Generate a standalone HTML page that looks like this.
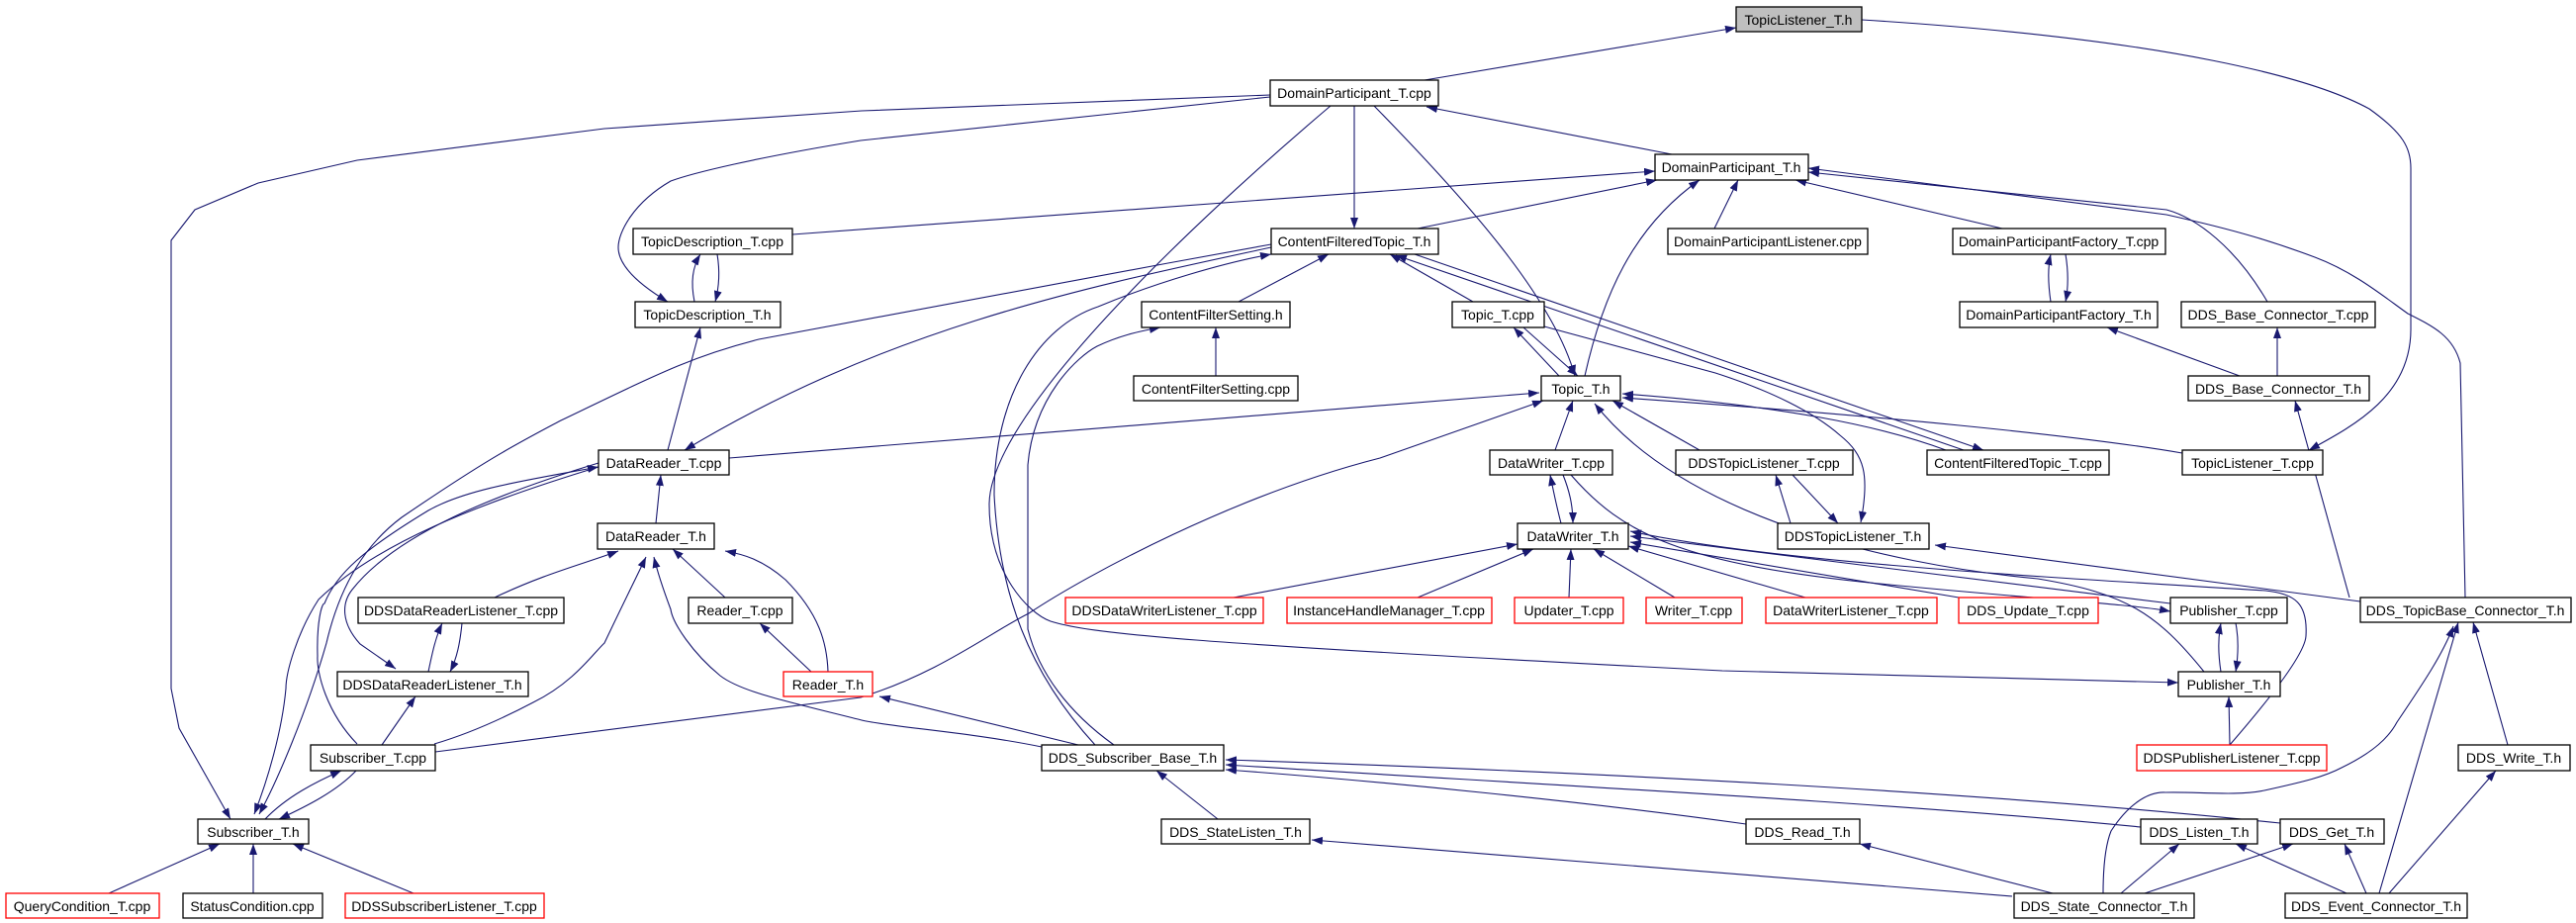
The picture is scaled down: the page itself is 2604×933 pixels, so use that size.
<!DOCTYPE html>
<html><head><meta charset="utf-8"><style>
html,body{margin:0;padding:0;background:#fff;}
svg{display:block;}
text{font-family:"Liberation Sans",sans-serif;font-size:14px;text-anchor:middle;fill:#000;}
.n{fill:#fff;stroke:#000;stroke-width:1.3;}
.r{fill:#fff;stroke:#f00;stroke-width:1.3;}
.g{fill:#bfbfbf;stroke:#000;stroke-width:1.3;}
path.e{fill:none;stroke:#191970;stroke-width:1.1;}
</style></head><body>
<svg width="2604" height="933" viewBox="0 0 2604 933" xmlns="http://www.w3.org/2000/svg">
<defs>
<marker id="a" markerUnits="userSpaceOnUse" markerWidth="12" markerHeight="9" refX="11" refY="4" orient="auto"><path d="M0,0 L11,4 L0,8 z" fill="#191970"/></marker>
<marker id="s" markerUnits="userSpaceOnUse" markerWidth="12" markerHeight="9" refX="11" refY="4" orient="auto-start-reverse"><path d="M0,0 L11,4 L0,8 z" fill="#191970"/></marker>
</defs>
<g marker-end="url(#a)">
<path class="e" d="M1440,81 L1755,28"/>
<path class="e" d="M1882,20 C2200,40 2340,80 2395,110 C2430,135 2437,150 2437,170 L2437,333 C2437,400 2380,430 2334,455"/>
<path class="e" d="M1284,96 L871,112 L611,130 L361,162 L261,185 L197,212 L173,243 L173,696 L181,736 L233,828"/>
<path class="e" d="M1284,98 L870,142 C760,160 700,175 678,183 C640,205 625,235 625,250 C625,270 650,290 675,305"/>
<path class="e" d="M1369,107 L1369,231"/>
<path class="e" d="M1389,107 C1480,200 1570,300 1592,380"/>
<path class="e" d="M1345,107 C1200,230 1000,420 1000,510 C1000,580 1040,620 1062,628 C1100,640 1190,650 1741,678 L2202,690"/>
<path class="e" d="M1690,156 L1442,108"/>
<path class="e" d="M801,237 L1673,173"/>
<path class="e" d="M1433,231 L1675,182"/>
<path class="e" d="M1602,380 C1620,300 1650,230 1718,182"/>
<path class="e" d="M1733,231 L1757,182"/>
<path class="e" d="M2024,231 L1815,182"/>
<path class="e" d="M2292,305 C2260,250 2220,220 2190,212 L1828,174"/>
<path class="e" d="M2492,604 L2487,367 C2480,340 2460,330 2434,317 C2410,300 2380,275 2340,260 C2300,245 2262,233 2190,217 L1828,170"/>
<path class="e" d="M702,305 C698,285 700,270 708,257"/>
<path class="e" d="M725,257 C728,275 727,290 723,305"/>
<path class="e" d="M675,455 L708,331"/>
<path class="e" d="M2073,305 C2070,285 2070,270 2073,257"/>
<path class="e" d="M2088,257 C2091,275 2091,290 2088,305"/>
<path class="e" d="M2264,380 L2130,331"/>
<path class="e" d="M2302,380 L2302,331"/>
<path class="e" d="M2375,604 L2320,405"/>
<path class="e" d="M1252,305 L1343,257"/>
<path class="e" d="M1229,380 L1229,331"/>
<path class="e" d="M1489,305 L1405,257"/>
<path class="e" d="M1576,380 L1530,331"/>
<path class="e" d="M1540,331 L1595,380"/>
<path class="e" d="M1430,257 L2005,455"/>
<path class="e" d="M1985,455 L1411,258"/>
<path class="e" d="M1561,330 L1734,377 C1790,395 1834,417 1860,440 C1885,460 1890,480 1881,528"/>
<path class="e" d="M1967,455 C1900,430 1800,410 1640,398"/>
<path class="e" d="M2206,458 C2100,440 1900,420 1640,402"/>
<path class="e" d="M2386,608 L1956,551"/>
<path class="e" d="M737,463 L1556,397"/>
<path class="e" d="M440,760 L870,705 C950,680 1000,640 1040,620 C1100,580 1250,500 1395,463 L1560,405"/>
<path class="e" d="M1572,455 L1590,405"/>
<path class="e" d="M1718,455 L1630,405"/>
<path class="e" d="M2228,679 C2180,620 2150,600 2060,585 C1900,570 1700,520 1612,408"/>
<path class="e" d="M1810,529 L1795,480"/>
<path class="e" d="M1812,480 L1858,529"/>
<path class="e" d="M1578,529 C1573,510 1570,495 1567,480"/>
<path class="e" d="M1580,480 C1586,495 1590,510 1590,529"/>
<path class="e" d="M1588,480 C1640,540 1700,570 1900,590 C2050,605 2150,610 2194,618"/>
<path class="e" d="M1247,604 L1534,550"/>
<path class="e" d="M1433,604 L1550,555"/>
<path class="e" d="M1586,604 L1588,555"/>
<path class="e" d="M1693,604 L1611,555"/>
<path class="e" d="M1825,604 L1646,552"/>
<path class="e" d="M1980,604 L1648,548"/>
<path class="e" d="M2194,610 L1648,542"/>
<path class="e" d="M2254,753 C2300,700 2330,660 2331,643 C2333,610 2320,600 2290,597 C2100,585 1800,570 1648,537"/>
<path class="e" d="M2245,679 C2242,660 2242,645 2245,630"/>
<path class="e" d="M2260,630 C2263,645 2263,660 2260,679"/>
<path class="e" d="M2254,753 L2253,704"/>
<path class="e" d="M663,529 L668,480"/>
<path class="e" d="M500,604 C550,580 590,570 625,557"/>
<path class="e" d="M433,679 C437,660 440,645 447,630"/>
<path class="e" d="M467,630 C465,650 462,665 455,679"/>
<path class="e" d="M733,604 L680,555"/>
<path class="e" d="M837,679 C836,650 828,620 794,586 C770,565 750,560 733,557"/>
<path class="e" d="M820,679 L768,630"/>
<path class="e" d="M439,752 C480,740 520,720 539,710 C580,690 600,660 611,650 C630,610 645,580 653,563"/>
<path class="e" d="M1053,755 C980,740 900,735 871,728 C800,710 750,700 728,683 C700,660 680,630 678,616 C672,600 665,580 661,563"/>
<path class="e" d="M1090,753 L889,704"/>
<path class="e" d="M605,468 C500,500 400,540 356,596 C345,610 345,630 364,651 L400,676"/>
<path class="e" d="M605,472 C480,510 380,550 322,606 C300,640 289,680 289,696 C285,740 270,790 257,823"/>
<path class="e" d="M1285,247 C1100,280 900,320 767,343 C700,360 667,377 567,425 C520,450 494,463 406,523 C370,550 344,590 330,650 C310,720 280,790 262,823"/>
<path class="e" d="M1285,250 C1100,290 900,330 692,455"/>
<path class="e" d="M361,752 C330,720 320,680 321,663 C320,630 325,610 328,610 C340,580 367,556 433,516 C470,495 528,486 605,472"/>
<path class="e" d="M1107,753 C1040,680 1010,600 1005,500 C1005,400 1050,330 1110,310 C1170,285 1240,265 1285,257"/>
<path class="e" d="M1126,753 C1080,720 1050,680 1039,636 L1039,470 C1045,400 1090,360 1109,350 C1130,340 1150,335 1173,331"/>
<path class="e" d="M268,828 C290,805 320,790 345,779"/>
<path class="e" d="M360,779 C340,800 310,815 282,828"/>
<path class="e" d="M386,753 L420,704"/>
<path class="e" d="M110,903 L222,853"/>
<path class="e" d="M256,903 L256,853"/>
<path class="e" d="M418,903 L296,853"/>
<path class="e" d="M1231,828 L1169,779"/>
<path class="e" d="M2305,832 C2000,800 1600,780 1239,768"/>
<path class="e" d="M2164,836 C1900,810 1500,790 1239,773"/>
<path class="e" d="M1765,833 C1600,810 1400,790 1239,778"/>
<path class="e" d="M2126,903 C2126,870 2130,850 2134,840 C2150,815 2170,800 2189,801 C2220,800 2260,805 2289,799 C2330,790 2350,785 2367,776 C2400,760 2415,745 2423,730 C2450,690 2470,660 2480,633"/>
<path class="e" d="M2034,906 L1326,849"/>
<path class="e" d="M2075,903 L1880,853"/>
<path class="e" d="M2144,903 L2203,853"/>
<path class="e" d="M2168,903 L2318,853"/>
<path class="e" d="M2372,903 L2260,853"/>
<path class="e" d="M2392,903 L2370,853"/>
<path class="e" d="M2405,903 L2485,629"/>
<path class="e" d="M2415,903 L2523,779"/>
<path class="e" d="M2535,753 L2500,629"/>
</g>
<!-- nodes -->
<rect class="g" x="1755" y="7" width="127" height="25"/><text x="1818" y="25">TopicListener_T.h</text>
<rect class="n" x="1284" y="81" width="170" height="26"/><text x="1369" y="99">DomainParticipant_T.cpp</text>
<rect class="n" x="1673" y="156" width="155" height="26"/><text x="1750" y="174">DomainParticipant_T.h</text>
<rect class="n" x="640" y="231" width="161" height="26"/><text x="720" y="249">TopicDescription_T.cpp</text>
<rect class="n" x="1285" y="231" width="169" height="26"/><text x="1369" y="249">ContentFilteredTopic_T.h</text>
<rect class="n" x="1686" y="231" width="202" height="26"/><text x="1787" y="249">DomainParticipantListener.cpp</text>
<rect class="n" x="1974" y="231" width="215" height="26"/><text x="2081" y="249">DomainParticipantFactory_T.cpp</text>
<rect class="n" x="642" y="305" width="147" height="26"/><text x="715" y="323">TopicDescription_T.h</text>
<rect class="n" x="1154" y="305" width="150" height="26"/><text x="1229" y="323">ContentFilterSetting.h</text>
<rect class="n" x="1468" y="305" width="93" height="26"/><text x="1514" y="323">Topic_T.cpp</text>
<rect class="n" x="1981" y="305" width="200" height="26"/><text x="2081" y="323">DomainParticipantFactory_T.h</text>
<rect class="n" x="2205" y="305" width="196" height="26"/><text x="2303" y="323">DDS_Base_Connector_T.cpp</text>
<rect class="n" x="1146" y="380" width="166" height="25"/><text x="1229" y="398">ContentFilterSetting.cpp</text>
<rect class="n" x="1558" y="380" width="80" height="25"/><text x="1598" y="398">Topic_T.h</text>
<rect class="n" x="2212" y="380" width="183" height="25"/><text x="2303" y="398">DDS_Base_Connector_T.h</text>
<rect class="n" x="605" y="455" width="132" height="25"/><text x="671" y="473">DataReader_T.cpp</text>
<rect class="n" x="1506" y="455" width="124" height="25"/><text x="1568" y="473">DataWriter_T.cpp</text>
<rect class="n" x="1694" y="455" width="179" height="25"/><text x="1783" y="473">DDSTopicListener_T.cpp</text>
<rect class="n" x="1948" y="455" width="184" height="25"/><text x="2040" y="473">ContentFilteredTopic_T.cpp</text>
<rect class="n" x="2206" y="455" width="142" height="25"/><text x="2277" y="473">TopicListener_T.cpp</text>
<rect class="n" x="604" y="529" width="118" height="26"/><text x="663" y="547">DataReader_T.h</text>
<rect class="n" x="1534" y="529" width="112" height="26"/><text x="1590" y="547">DataWriter_T.h</text>
<rect class="n" x="1797" y="529" width="153" height="26"/><text x="1873" y="547">DDSTopicListener_T.h</text>
<rect class="n" x="362" y="604" width="208" height="26"/><text x="466" y="622">DDSDataReaderListener_T.cpp</text>
<rect class="n" x="696" y="604" width="105" height="26"/><text x="748" y="622">Reader_T.cpp</text>
<rect class="r" x="1077" y="604" width="200" height="26"/><text x="1177" y="622">DDSDataWriterListener_T.cpp</text>
<rect class="r" x="1301" y="604" width="207" height="26"/><text x="1404" y="622">InstanceHandleManager_T.cpp</text>
<rect class="r" x="1531" y="604" width="110" height="26"/><text x="1586" y="622">Updater_T.cpp</text>
<rect class="r" x="1664" y="604" width="97" height="26"/><text x="1712" y="622">Writer_T.cpp</text>
<rect class="r" x="1785" y="604" width="173" height="26"/><text x="1871" y="622">DataWriterListener_T.cpp</text>
<rect class="r" x="1980" y="604" width="141" height="26"/><text x="2050" y="622">DDS_Update_T.cpp</text>
<rect class="n" x="2194" y="604" width="118" height="26"/><text x="2253" y="622">Publisher_T.cpp</text>
<rect class="n" x="2386" y="604" width="213" height="25"/><text x="2492" y="622">DDS_TopicBase_Connector_T.h</text>
<rect class="n" x="341" y="679" width="193" height="25"/><text x="437" y="697">DDSDataReaderListener_T.h</text>
<rect class="r" x="792" y="679" width="90" height="25"/><text x="837" y="697">Reader_T.h</text>
<rect class="n" x="2202" y="679" width="103" height="25"/><text x="2253" y="697">Publisher_T.h</text>
<rect class="n" x="314" y="753" width="126" height="26"/><text x="377" y="771">Subscriber_T.cpp</text>
<rect class="n" x="1053" y="753" width="184" height="26"/><text x="1145" y="771">DDS_Subscriber_Base_T.h</text>
<rect class="r" x="2160" y="753" width="192" height="26"/><text x="2256" y="771">DDSPublisherListener_T.cpp</text>
<rect class="n" x="2485" y="753" width="113" height="26"/><text x="2541" y="771">DDS_Write_T.h</text>
<rect class="n" x="200" y="828" width="112" height="25"/><text x="256" y="846">Subscriber_T.h</text>
<rect class="n" x="1174" y="828" width="150" height="25"/><text x="1249" y="846">DDS_StateListen_T.h</text>
<rect class="n" x="1765" y="828" width="115" height="25"/><text x="1822" y="846">DDS_Read_T.h</text>
<rect class="n" x="2164" y="828" width="118" height="25"/><text x="2223" y="846">DDS_Listen_T.h</text>
<rect class="n" x="2305" y="828" width="105" height="25"/><text x="2357" y="846">DDS_Get_T.h</text>
<rect class="r" x="6" y="903" width="155" height="25"/><text x="83" y="921">QueryCondition_T.cpp</text>
<rect class="n" x="185" y="903" width="141" height="25"/><text x="255" y="921">StatusCondition.cpp</text>
<rect class="r" x="349" y="903" width="201" height="25"/><text x="449" y="921">DDSSubscriberListener_T.cpp</text>
<rect class="n" x="2036" y="903" width="182" height="25"/><text x="2127" y="921">DDS_State_Connector_T.h</text>
<rect class="n" x="2310" y="903" width="184" height="25"/><text x="2402" y="921">DDS_Event_Connector_T.h</text>
</svg>
</body></html>
